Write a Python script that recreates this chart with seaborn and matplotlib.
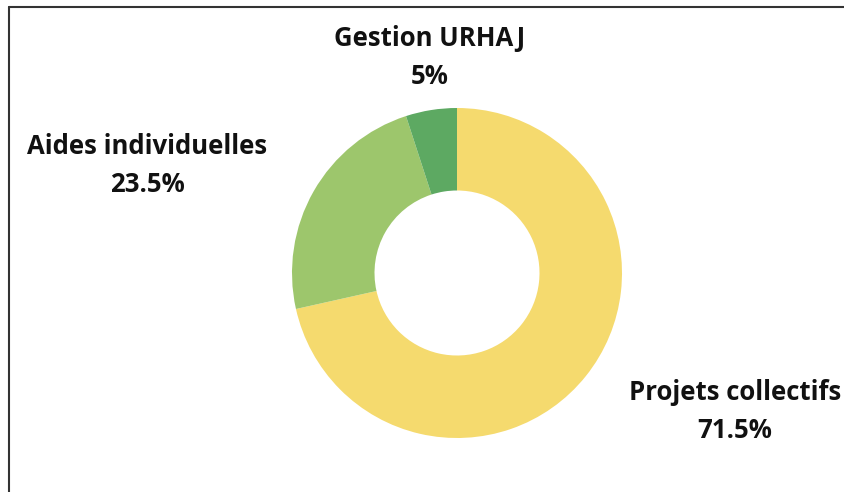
import matplotlib
matplotlib.use("Agg")
import matplotlib.pyplot as plt
import seaborn as sns
from matplotlib.lines import Line2D

# ==================================================
#* Données
# ==================================================
categories = ["Projets collectifs", "Aides individuelles", "Gestion URHAJ"]
valeurs = [71.5, 23.5, 5.0]
etiquettes = ["71.5%", "23.5%", "5%"]
couleurs = ["#F5DA6E", "#9DC66C", "#5DA962"]

# ==================================================
#* Configuration visuelle
# ==================================================
sns.set_theme(style="white")
plt.rcParams["font.family"] = ["Open Sans", "DejaVu Sans"]

W, H = 844, 492
fig = plt.figure(figsize=(W / 100, H / 100), dpi=100)
fig.patch.set_facecolor("white")

# axe du donut : centre (457, 273), rayon 165 px
cx, cy, r = 457, 273, 165
ax = fig.add_axes([(cx - r) / W, (H - cy - r) / H, 2 * r / W, 2 * r / H])
ax.pie(
    valeurs,
    colors=couleurs,
    startangle=90,
    counterclock=False,
    radius=1,
    wedgeprops=dict(width=0.5, linewidth=0),
)
ax.set_xlim(-1, 1)
ax.set_ylim(-1, 1)
ax.set_aspect("equal")
ax.axis("off")

# positions des étiquettes (pixels du haut à gauche)
pos_labels = [(735, 392), (147, 147), (430, 38)]
for cat, lab, (px, py) in zip(categories, etiquettes, pos_labels):
    fig.text(px / W, 1 - py / H, cat, ha="center", va="center",
             fontsize=18.5, fontweight="bold", color="#111111")
    fig.text(px / W, 1 - (py + 38) / H, lab, ha="center", va="center",
             fontsize=18.5, fontweight="bold", color="#111111")

# cadre (haut et gauche)
fig.add_artist(Line2D([9 / W, 1], [1 - 7 / H, 1 - 7 / H], color="#333333",
                      linewidth=1.5, transform=fig.transFigure))
fig.add_artist(Line2D([9 / W, 9 / W], [0, 1 - 7 / H], color="#333333",
                      linewidth=1.5, transform=fig.transFigure))

fig.savefig("out.png", dpi=100, facecolor="white")
